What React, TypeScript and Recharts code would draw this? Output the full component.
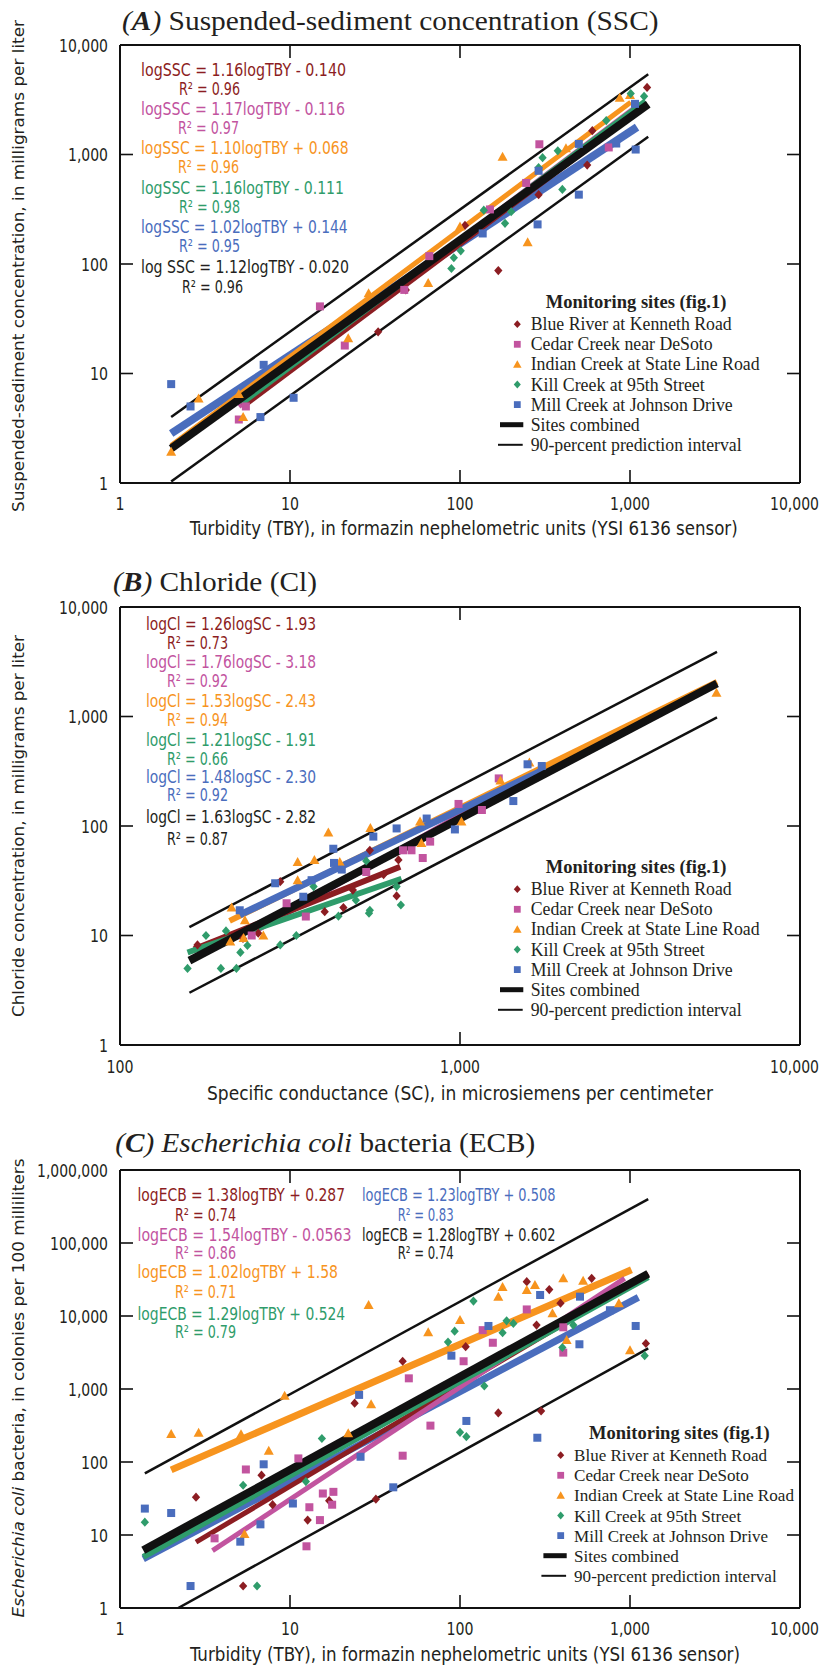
import React from "react";
import { ComposedChart, Line, Scatter, XAxis, YAxis } from "recharts";

const RED = "#8c1d22";
const PINK = "#c2549f";
const ORANGE = "#f7941e";
const GREEN = "#2f9c6b";
const BLUE = "#4a6dbd";
const INK = "#231f20";

const NARROW = "'Liberation Sans Narrow', 'DejaVu Sans Condensed', 'Arial Narrow', sans-serif";
const SERIF = "'Liberation Serif', 'Times New Roman', serif";
const WIDE = "'DejaVu Sans', Verdana, sans-serif";

type Pt = { x: number; y: number };
const toPts = (rows: number[][]): Pt[] => rows.map(([x, y]) => ({ x, y }));

const siteNames = [
  "Blue River at Kenneth Road",
  "Cedar Creek near DeSoto",
  "Indian Creek at State Line Road",
  "Kill Creek at 95th Street",
  "Mill Creek at Johnson Drive",
];

// ---- (A) suspended sediment vs turbidity
const tbyTicks = [1, 10, 100, 1000, 10000];
const sscTicks = [1, 10, 100, 1000, 10000];
const sscBlueRiver = toPts([[33, 24], [48, 58], [107, 225], [168, 87], [290, 430], [560, 800], [600, 1650], [1260, 4100]]);
const sscCedar = toPts([[5, 3.8], [5.5, 5], [15, 41], [21, 18], [47, 58], [66, 118], [150, 315], [245, 550], [293, 1240], [750, 1160]]);
const sscIndian = toPts([[2, 1.93], [2.9, 5.9], [5, 6.5], [5.3, 4], [22, 21], [29, 54], [65, 67], [100, 220], [178, 955], [250, 158], [420, 1140], [870, 3300], [1000, 3500]]);
const sscKill = toPts([[89, 91], [92, 114], [101, 132], [138, 310], [184, 235], [200, 300], [290, 760], [306, 935], [376, 1080], [400, 480], [725, 2040], [1010, 3600], [1210, 3400]]);
const sscMill = toPts([[2, 8], [2.6, 5], [6.7, 4], [7, 12], [10.5, 6], [136, 190], [286, 230], [290, 710], [500, 430], [500, 1250], [830, 1260], [1070, 2900], [1080, 1110]]);
const sscFitBlueRiver = toPts([[5.3, 5.0], [1260, 2860]]);
const sscFitCedar = toPts([[5, 5.0], [1100, 2770]]);
const sscFitIndian = toPts([[2, 2.2], [1010, 3000]]);
const sscFitKill = toPts([[5.2, 5.3], [1230, 3100]]);
const sscFitMill = toPts([[2, 2.83], [1100, 1780]]);
const sscFitAll = toPts([[2, 2.07], [1280, 2880]]);
const sscUpper = toPts([[2, 4.0], [1280, 5400]]);
const sscLower = toPts([[2, 1.03], [1280, 1450]]);
const sscEquations = [
  ["logSSC = 1.16logTBY - 0.140", "R² = 0.96"],
  ["logSSC = 1.17logTBY - 0.116", "R² = 0.97"],
  ["logSSC = 1.10logTBY + 0.068", "R² = 0.96"],
  ["logSSC = 1.16logTBY - 0.111", "R² = 0.98"],
  ["logSSC = 1.02logTBY + 0.144", "R² = 0.95"],
  ["log SSC = 1.12logTBY - 0.020", "R² = 0.96"],
];

// ---- (B) chloride vs specific conductance
const scTicks = [100, 1000, 10000];
const clTicks = [1, 10, 100, 1000, 10000];
const clBlueRiver = toPts([[169, 8.2], [230, 9.4], [255, 10.5], [296, 31], [400, 16.5], [454, 18], [484, 26], [543, 60], [596, 36], [651, 23], [659, 49]]);
const clCedar = toPts([[244, 10], [309, 19.7], [352, 14.9], [530, 38], [680, 60], [720, 60], [777, 51], [817, 72], [990, 159], [1160, 140], [1300, 272]]);
const clIndian = toPts([[211, 8.8], [213, 18], [231, 9.5], [233, 13.8], [264, 10], [333, 47], [333, 32], [373, 49], [410, 87], [443, 47], [545, 96], [763, 110], [770, 70], [1010, 110], [1315, 260], [1600, 380], [5680, 1650]]);
const clKill = toPts([[158, 5.0], [179, 10], [198, 5.0], [205, 11], [220, 5.0], [226, 7.0], [237, 8.1], [296, 8.2], [330, 10], [371, 28], [439, 15], [494, 21], [530, 48], [540, 16], [543, 17], [651, 28], [670, 19]]);
const clMill = toPts([[225, 17], [286, 30], [346, 22.6], [366, 32], [424, 62], [426, 46], [449, 40], [556, 80], [651, 95], [798, 117], [966, 93], [1435, 169], [1580, 366], [1740, 353]]);
const clFitBlueRiver = toPts([[165, 7.5], [667, 42.5]]);
const clFitCedar = toPts([[245, 10.5], [1300, 200]]);
const clFitIndian = toPts([[210, 13.6], [5700, 2070]]);
const clFitKill = toPts([[158, 7.0], [673, 33]]);
const clFitMill = toPts([[225, 15.4], [1780, 330]]);
const clFitAll = toPts([[160, 5.9], [5700, 2000]]);
const clUpper = toPts([[160, 11.9], [5700, 3900]]);
const clLower = toPts([[160, 3.0], [5700, 980]]);
const clEquations = [
  ["logCl = 1.26logSC - 1.93", "R² = 0.73"],
  ["logCl = 1.76logSC - 3.18", "R² = 0.92"],
  ["logCl = 1.53logSC - 2.43", "R² = 0.94"],
  ["logCl = 1.21logSC - 1.91", "R² = 0.66"],
  ["logCl = 1.48logSC - 2.30", "R² = 0.92"],
  ["logCl = 1.63logSC - 2.82", "R² = 0.87"],
];

// ---- (C) E. coli vs turbidity
const ecbTicks = [1, 10, 100, 1000, 10000, 100000, 1000000];
const ecbBlueRiver = toPts([[2.8, 33], [5.3, 2], [6.8, 66], [7.9, 26], [12.7, 16], [17, 29.5], [24, 640], [32, 31], [46, 2400], [108, 3800], [168, 470], [247, 29500], [282, 7500], [300, 500], [335, 23000], [390, 15000], [595, 32800], [1240, 4200]]);
const ecbCedar = toPts([[3.6, 9], [5.5, 79], [11.2, 112], [12.5, 7], [13, 24], [15, 16], [15.6, 37], [17.7, 26], [18, 39], [46, 122], [50, 1400], [67, 315], [105, 2400], [136, 6400], [156, 4300], [247, 12300], [405, 3150], [405, 7000]]);
const ecbIndian = toPts([[2, 242], [2.9, 252], [5.15, 240], [5.4, 10.3], [7.5, 143], [9.3, 810], [22, 247], [29, 14200], [30, 617], [65, 6000], [100, 8800], [168, 18400], [178, 25000], [247, 22700], [276, 26600], [350, 10900], [405, 32800], [424, 4700], [530, 30500], [860, 15000], [1000, 3400]]);
const ecbKill = toPts([[1.4, 15], [5.3, 48], [6.4, 2], [12.4, 54], [15.4, 210], [85, 4400], [93, 6200], [100, 255], [109, 222], [120, 16000], [139, 1100], [178, 5900], [188, 8600], [206, 7900], [400, 3700], [464, 7500], [1220, 2860]]);
const ecbMill = toPts([[1.4, 23], [2, 20], [2.6, 2], [5.1, 8.1], [6.7, 14], [7, 93], [10.4, 27], [25.5, 830], [26, 118], [40.5, 45], [89, 2860], [109, 365], [147, 7300], [285, 215], [296, 19400], [504, 4100], [508, 18400], [762, 12000], [1080, 7300]]);
const ecbFitBlueRiver = toPts([[2.8, 8.0], [1280, 38000]]);
const ecbFitCedar = toPts([[3.5, 6.1], [930, 32800]]);
const ecbFitIndian = toPts([[2, 78], [1020, 43000]]);
const ecbFitKill = toPts([[1.37, 5.0], [1280, 34000]]);
const ecbFitMill = toPts([[1.37, 4.7], [1120, 18000]]);
const ecbFitAll = toPts([[1.37, 6.2], [1280, 37900]]);
const ecbUpper = toPts([[1.4, 70], [1280, 400000]]);
const ecbLower = toPts([[2.2, 1.0], [1280, 3600]]);
const ecbEquationsLeft = [
  ["logECB = 1.38logTBY + 0.287", "R² = 0.74"],
  ["logECB = 1.54logTBY - 0.0563", "R² = 0.86"],
  ["logECB = 1.02logTBY + 1.58", "R² = 0.71"],
  ["logECB = 1.29logTBY + 0.524", "R² = 0.79"],
];
const ecbEquationsRight = [
  ["logECB = 1.23logTBY + 0.508", "R² = 0.83"],
  ["logECB = 1.28logTBY + 0.602", "R² = 0.74"],
];

const siteColors = [RED, PINK, ORANGE, GREEN, BLUE];
const siteShapes = ["diamond", "square", "triangle", "diamond", "square"];

function Marker({ cx, cy, fill, kind, k = 1 }: any) {
  if (cx == null || cy == null) return null;
  if (kind === "square") {
    const h = 4 * k;
    return <rect x={cx - h} y={cy - h} width={2 * h} height={2 * h} fill={fill} />;
  }
  if (kind === "triangle") {
    const h = 5 * k;
    return <path d={`M${cx},${cy - h}L${cx + h},${cy + h * 0.8}L${cx - h},${cy + h * 0.8}Z`} fill={fill} />;
  }
  const h = 4.6 * k;
  return <path d={`M${cx},${cy - h}L${cx + h * 0.9},${cy}L${cx},${cy + h}L${cx - h * 0.9},${cy}Z`} fill={fill} />;
}

const fmt = (v: number) => v.toLocaleString("en-US");
const numWidth = (s: string) => s.replace(/,/g, "").length * 9 + (s.length - s.replace(/,/g, "").length) * 4;
const frame = { stroke: "#111", strokeWidth: 2 };
const TICK_FS = 17;

function BottomTick({ x, y, payload, dy, last }: any) {
  const s = fmt(payload.value);
  const w = numWidth(s);
  // the right-most label sits close to the page edge, as in the print
  const isLast = payload.value === last;
  return (
    <g>
      <line x1={x} x2={x} y1={y} y2={y - 13} stroke="#111" strokeWidth={1.6} />
      <text x={isLast ? x + 19 : x} y={y + dy} textAnchor={isLast ? "end" : "middle"} fontFamily={NARROW} fontSize={TICK_FS} fill={INK}
        textLength={w} lengthAdjust="spacingAndGlyphs">{s}</text>
    </g>
  );
}
function LeftTick({ x, y, payload }: any) {
  const s = fmt(payload.value);
  return (
    <g>
      <line x1={x} x2={x + 13} y1={y} y2={y} stroke="#111" strokeWidth={1.6} />
      <text x={x - 12} y={y + 6.5} textAnchor="end" fontFamily={NARROW} fontSize={TICK_FS} fill={INK}
        textLength={numWidth(s)} lengthAdjust="spacingAndGlyphs">{s}</text>
    </g>
  );
}
const TopTick = ({ x, y }: any) => <line x1={x} x2={x} y1={y} y2={y + 13} stroke="#111" strokeWidth={1.6} />;
const RightTick = ({ x, y }: any) => <line x1={x} x2={x - 13} y1={y} y2={y} stroke="#111" strokeWidth={1.6} />;

type PanelProps = {
  top: number;
  height: number;
  margin: { top: number; right: number; bottom: number; left: number };
  xDomain: number[];
  xTicks: number[];
  yDomain: number[];
  yTicks: number[];
  labelDy: number;
  sites: Pt[][];
  fits: [Pt[], string, number][];
};

// axes get 1px of room each (recharts skips drawing an axis of zero size)
function Panel({ top, height, margin, xDomain, xTicks, yDomain, yTicks, labelDy, sites, fits }: PanelProps) {
  const common = { type: "number" as const, scale: "log" as const, allowDataOverflow: true, interval: 0 as const, tickSize: 0, tickMargin: 0, tickLine: false, axisLine: frame };
  const lastX = xTicks[xTicks.length - 1];
  return (
    <div style={{ position: "absolute", left: 0, top }}>
      <ComposedChart width={826} height={height} margin={margin}>
        <XAxis {...common} dataKey="x" domain={xDomain} ticks={xTicks} height={1}
          tick={(p: any) => <BottomTick {...p} dy={labelDy} last={lastX} />} />
        <XAxis {...common} xAxisId="top" orientation="top" dataKey="x" domain={xDomain} ticks={xTicks} height={1}
          tick={(p: any) => <TopTick {...p} />} />
        <YAxis {...common} dataKey="y" domain={yDomain} ticks={yTicks} width={1}
          tick={(p: any) => <LeftTick {...p} />} />
        <YAxis {...common} yAxisId="right" orientation="right" dataKey="y" domain={yDomain} ticks={yTicks} width={1}
          tick={(p: any) => <RightTick {...p} />} />
        {sites.map((d, i) => (
          <Scatter key={`s${i}`} data={d} fill={siteColors[i]} isAnimationActive={false} legendType="none"
            shape={(p: any) => <Marker {...p} fill={siteColors[i]} kind={siteShapes[i]} />} />
        ))}
        {fits.map(([d, color, w], i) => (
          <Line key={`f${i}`} data={d} dataKey="y" stroke={color} strokeWidth={w} dot={false} activeDot={false}
            isAnimationActive={false} legendType="none" />
        ))}
      </ComposedChart>
    </div>
  );
}

function Txt({ x, y, w, size, color = INK, font = NARROW, anchor = "start", rotate, children, weight }: any) {
  return (
    <text x={x} y={y} fontSize={size} fill={color} fontFamily={font} textAnchor={anchor} fontWeight={weight}
      textLength={w} lengthAdjust="spacingAndGlyphs" transform={rotate ? `rotate(-90 ${x} ${y})` : undefined}>
      {children}
    </text>
  );
}

const legendWidths = [201, 182, 229, 174, 202, 109, 211];

function LegendBlock({ left, titleY, k = 1 }: { left: number; titleY: number; k?: number }) {
  // left = x of markers
  const rowY = (i: number) => titleY + 22.5 + i * 20.1;
  const fs = 18 * k;
  return (
    <g>
      <Txt x={left + 118.7} y={titleY + 6} w={180.7} size={18} font={SERIF} anchor="middle" weight="bold">Monitoring sites (fig.1)</Txt>
      {siteNames.map((n, i) => (
        <g key={n}>
          <Marker cx={left} cy={rowY(i)} fill={siteColors[i]} kind={siteShapes[i]} k={0.85} />
          <Txt x={left + 13.4} y={rowY(i) + 6} w={legendWidths[i] * k} size={fs} font={SERIF}>{n}</Txt>
        </g>
      ))}
      <line x1={left - 17.3} x2={left + 6} y1={rowY(5)} y2={rowY(5)} stroke="#111" strokeWidth={5} />
      <Txt x={left + 13.4} y={rowY(5) + 6} w={legendWidths[5] * k} size={fs} font={SERIF}>Sites combined</Txt>
      <line x1={left - 19.3} x2={left + 5.4} y1={rowY(6)} y2={rowY(6)} stroke="#111" strokeWidth={2} />
      <Txt x={left + 13.4} y={rowY(6) + 6} w={legendWidths[6] * k} size={fs} font={SERIF}>90-percent prediction interval</Txt>
    </g>
  );
}

const eqColors = [RED, PINK, ORANGE, GREEN, BLUE, INK];

function Overlay() {
  const aEqY = [75.5, 115, 154, 193.5, 233, 273];
  const aR2Y = [94.5, 133.5, 173, 213, 252, 293];
  const aEqW = [205, 204, 207.6, 203, 206.6, 208];
  const aR2X = [179, 178, 178, 179, 179, 182];
  const bEqY = [629.5, 668, 707, 746, 783, 823];
  const bR2Y = [648.5, 687, 726, 764.5, 801, 844.5];
  const cEqY = [1201, 1241, 1278, 1320];
  const cR2Y = [1220.5, 1259, 1297.5, 1337.5];
  const cEqW = [207.5, 214, 200.5, 207.7];
  return (
    <svg width={826} height={1667} style={{ position: "absolute", left: 0, top: 0, pointerEvents: "none" }}>
      {/* titles */}
      <text x={122} y={29.5} fontSize={28} fontFamily={SERIF} fill={INK} textLength={536.6} lengthAdjust="spacingAndGlyphs">
        <tspan fontStyle="italic">(<tspan fontWeight="bold">A</tspan>)</tspan> Suspended-sediment concentration (SSC)
      </text>
      <text x={113} y={591} fontSize={28} fontFamily={SERIF} fill={INK} textLength={204} lengthAdjust="spacingAndGlyphs">
        <tspan fontStyle="italic">(<tspan fontWeight="bold">B</tspan>)</tspan> Chloride (Cl)
      </text>
      <text x={115.3} y={1152} fontSize={28} fontFamily={SERIF} fill={INK} textLength={420} lengthAdjust="spacingAndGlyphs">
        <tspan fontStyle="italic">(<tspan fontWeight="bold">C</tspan>) Escherichia coli</tspan> bacteria (ECB)
      </text>

      {/* axis titles */}
      <Txt x={23.5} y={266} w={492} size={16} font={WIDE} anchor="middle" rotate>Suspended-sediment concentration, in milligrams per liter</Txt>
      <Txt x={463.7} y={535} w={548} size={19} anchor="middle">Turbidity (TBY), in formazin nephelometric units (YSI 6136 sensor)</Txt>
      <Txt x={23.5} y={826} w={382} size={16} font={WIDE} anchor="middle" rotate>Chloride concentration, in milligrams per liter</Txt>
      <Txt x={460} y={1100} w={506} size={19} anchor="middle">Specific conductance (SC), in microsiemens per centimeter</Txt>
      <text x={23.5} y={1388} fontSize={16} fontFamily={WIDE} fill={INK} textAnchor="middle" textLength={459}
        lengthAdjust="spacingAndGlyphs" transform="rotate(-90 23.5 1388)">
        <tspan fontStyle="italic">Escherichia coli</tspan> bacteria, in colonies per 100 milliliters
      </text>
      <Txt x={465} y={1661} w={550} size={19} anchor="middle">Turbidity (TBY), in formazin nephelometric units (YSI 6136 sensor)</Txt>

      {/* equations */}
      {sscEquations.map(([e, r], i) => (
        <g key={`a${i}`}>
          <Txt x={141} y={aEqY[i]} w={aEqW[i]} size={17} color={eqColors[i]}>{e}</Txt>
          <Txt x={aR2X[i]} y={aR2Y[i]} w={61} size={17} color={eqColors[i]}>{r}</Txt>
        </g>
      ))}
      {clEquations.map(([e, r], i) => (
        <g key={`b${i}`}>
          <Txt x={146} y={bEqY[i]} w={170} size={17} color={eqColors[i]}>{e}</Txt>
          <Txt x={167} y={bR2Y[i]} w={61} size={17} color={eqColors[i]}>{r}</Txt>
        </g>
      ))}
      {ecbEquationsLeft.map(([e, r], i) => (
        <g key={`c${i}`}>
          <Txt x={137.5} y={cEqY[i]} w={cEqW[i]} size={17} color={eqColors[i]}>{e}</Txt>
          <Txt x={175} y={cR2Y[i]} w={61} size={17} color={eqColors[i]}>{r}</Txt>
        </g>
      ))}
      {ecbEquationsRight.map(([e, r], i) => (
        <g key={`d${i}`}>
          <Txt x={362} y={cEqY[i]} w={193.4} size={17} color={i === 0 ? BLUE : INK}>{e}</Txt>
          <Txt x={397.7} y={cR2Y[i]} w={56} size={17} color={i === 0 ? BLUE : INK}>{r}</Txt>
        </g>
      ))}

      {/* legends */}
      <LegendBlock left={517.3} titleY={301.7} />
      <LegendBlock left={517.3} titleY={866.7} />
      <LegendBlock left={560.7} titleY={1432.7} k={0.96} />
    </svg>
  );
}

export default function App() {
  const K = "#111";
  return (
    <div style={{ position: "absolute", left: 0, top: 0, width: 826, height: 1667, background: "#fff", overflow: "hidden" }}>
      <Panel top={0} height={545} margin={{ top: 44, right: 25, bottom: 61, left: 119 }}
        xDomain={[1, 10000]} xTicks={tbyTicks} yDomain={[1, 10000]} yTicks={sscTicks} labelDy={27}
        sites={[sscBlueRiver, sscCedar, sscIndian, sscKill, sscMill]}
        fits={[[sscFitMill, BLUE, 8], [sscFitCedar, PINK, 5], [sscFitBlueRiver, RED, 5], [sscFitKill, GREEN, 5],
          [sscFitIndian, ORANGE, 5], [sscFitAll, K, 8], [sscUpper, K, 2.5], [sscLower, K, 2.5]]} />
      <Panel top={560} height={545} margin={{ top: 46, right: 25, bottom: 59, left: 119 }}
        xDomain={[100, 10000]} xTicks={scTicks} yDomain={[1, 10000]} yTicks={clTicks} labelDy={28}
        sites={[clBlueRiver, clCedar, clIndian, clKill, clMill]}
        fits={[[clFitCedar, PINK, 5], [clFitIndian, ORANGE, 6], [clFitMill, BLUE, 7], [clFitBlueRiver, RED, 6],
          [clFitKill, GREEN, 6], [clFitAll, K, 8], [clUpper, K, 2.5], [clLower, K, 2.5]]} />
      <Panel top={1120} height={547} margin={{ top: 49, right: 25, bottom: 58, left: 119 }}
        xDomain={[1, 10000]} xTicks={tbyTicks} yDomain={[1, 1000000]} yTicks={ecbTicks} labelDy={27}
        sites={[ecbBlueRiver, ecbCedar, ecbIndian, ecbKill, ecbMill]}
        fits={[[ecbFitIndian, ORANGE, 7], [ecbFitMill, BLUE, 7], [ecbFitBlueRiver, RED, 5], [ecbFitCedar, PINK, 5],
          [ecbFitKill, GREEN, 6], [ecbFitAll, K, 8], [ecbUpper, K, 2.5], [ecbLower, K, 2.5]]} />
      <Overlay />
    </div>
  );
}
